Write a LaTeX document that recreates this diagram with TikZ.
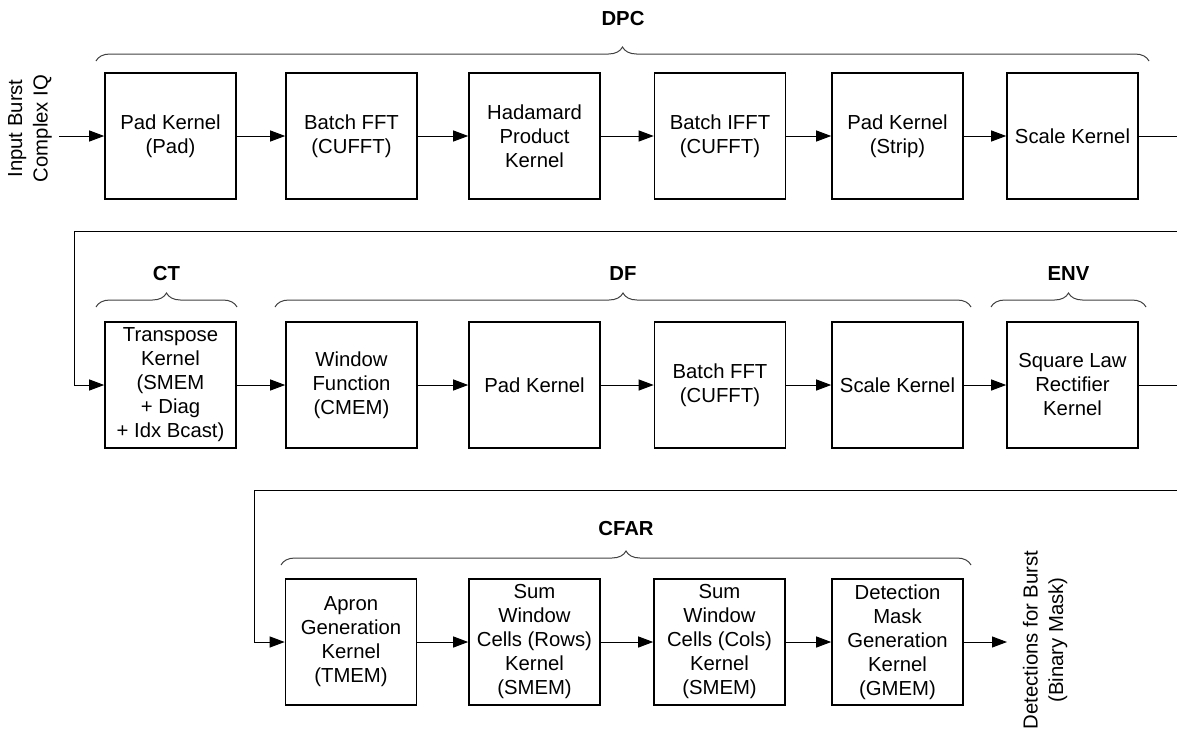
\documentclass[tikz,border=0pt]{standalone}
\usepackage{fontspec}
\setmainfont{Liberation Sans}
\usetikzlibrary{arrows.meta,decorations.pathreplacing}
\begin{document}
\begin{tikzpicture}[x=1pt,y=-1pt,
 kbox/.style={draw, line width=1.6pt, minimum width=131pt, minimum height=126pt, inner sep=0pt, align=center, font=\fontsize{20.3}{24}\selectfont},
 conn/.style={line width=1pt, -{Triangle[length=15pt,width=11pt]}},
 plain/.style={line width=1pt},
 grp/.style={line width=1pt, draw=black!75, decorate, decoration={brace, amplitude=14pt}},
 glabel/.style={font=\fontsize{20.3}{24}\selectfont\bfseries},
 vlabel/.style={rotate=90, align=center, font=\fontsize{20.3}{25.5}\selectfont}]
\useasboundingbox (0,0) rectangle (1177,731);

% Row 1
\node[kbox] (pad) at (170.5,136) {Pad Kernel\\(Pad)};
\node[kbox] (fft) at (351.5,136) {Batch FFT\\(CUFFT)};
\node[kbox] (had) at (534.5,136) {Hadamard\\Product\\Kernel};
\node[kbox] (ifft) at (720,136) {Batch IFFT\\(CUFFT)};
\node[kbox] (strip) at (897.5,136) {Pad Kernel\\(Strip)};
\node[kbox] (scale1) at (1072.5,136) {Scale Kernel};
\node[vlabel] (inlab) at (30,128.5) {Input Burst\\Complex IQ};
\coordinate (inS) at (59,136);
\coordinate (r1out) at (1177,136);
\draw[conn] (inS) -- (pad);
\draw[conn] (pad) -- (fft);
\draw[conn] (fft) -- (had);
\draw[conn] (had) -- (ifft);
\draw[conn] (ifft) -- (strip);
\draw[conn] (strip) -- (scale1);
\draw[plain] (scale1.east) -- (r1out);
\draw[grp] (96,61) -- (1149,61);
\node[glabel] (dpc) at (623,18.5) {DPC};

% Row 2
\node[kbox] (tr) at (170.5,385) {Transpose\\Kernel\\(SMEM\\+ Diag\\+ Idx Bcast)};
\node[kbox] (win) at (351.5,385) {Window\\Function\\(CMEM)};
\node[kbox] (pad2) at (534.5,385) {Pad Kernel};
\node[kbox] (fft2) at (720,385) {Batch FFT\\(CUFFT)};
\node[kbox] (scale2) at (897.5,385) {Scale Kernel};
\node[kbox] (sql) at (1072.5,385) {Square Law\\Rectifier\\Kernel};
\coordinate (r2in) at (1177,231);
\coordinate (r2corner) at (74,231);
\coordinate (r2out) at (1177,385);
\draw[conn] (r2in) -- (r2corner) |- (tr.west);
\draw[conn] (tr) -- (win);
\draw[conn] (win) -- (pad2);
\draw[conn] (pad2) -- (fft2);
\draw[conn] (fft2) -- (scale2);
\draw[conn] (scale2) -- (sql);
\draw[plain] (sql.east) -- (r2out);
\draw[grp] (96,307) -- (237,307);
\draw[grp] (275,307) -- (971,307);
\draw[grp] (991,307) -- (1146,307);
\node[glabel] (ct) at (166.5,274) {CT};
\node[glabel] (df) at (623,274) {DF};
\node[glabel] (env) at (1068.5,274) {ENV};

% Row 3
\node[kbox] (apron) at (351,642) {Apron\\Generation\\Kernel\\(TMEM)};
\node[kbox] (rows) at (534.5,642) {Sum\\Window\\Cells (Rows)\\Kernel\\(SMEM)};
\node[kbox] (cols) at (719.5,642) {Sum\\Window\\Cells (Cols)\\Kernel\\(SMEM)};
\node[kbox] (det) at (897.5,642) {Detection\\Mask\\Generation\\Kernel\\(GMEM)};
\coordinate (r3in) at (1177,490);
\coordinate (r3corner) at (254,490);
\coordinate (outE) at (1007,642);
\draw[conn] (r3in) -- (r3corner) |- (apron.west);
\draw[conn] (apron) -- (rows);
\draw[conn] (rows) -- (cols);
\draw[conn] (cols) -- (det);
\draw[conn] (det) -- (outE);
\node[vlabel] (outlab) at (1045,640) {Detections for Burst\\(Binary Mask)};
\draw[grp] (281,565) -- (971,565);
\node[glabel] (cfar) at (626,529) {CFAR};
\end{tikzpicture}
\end{document}
